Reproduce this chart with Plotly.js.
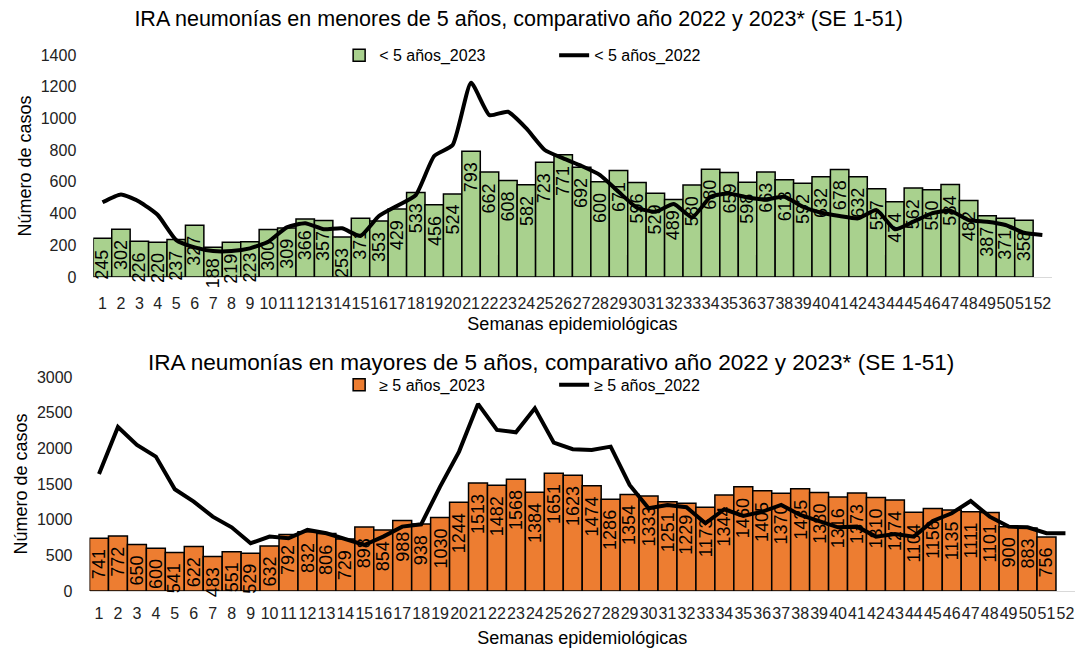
<!DOCTYPE html>
<html>
<head>
<meta charset="utf-8">
<script src="https://cdn.plot.ly/plotly-3.0.1.min.js"></script>
<style>html,body{margin:0;padding:0;background:#fff}#chart{width:1076px;height:650px}</style>
</head>
<body>
<div id="chart"></div>
<script>
// Semanas epidemiológicas
const weeks = [1,2,3,4,5,6,7,8,9,10,11,12,13,14,15,16,17,18,19,20,21,22,23,24,25,26,27,28,29,30,31,32,33,34,35,36,37,38,39,40,41,42,43,44,45,46,47,48,49,50,51,52];
const weeks2023 = [1,2,3,4,5,6,7,8,9,10,11,12,13,14,15,16,17,18,19,20,21,22,23,24,25,26,27,28,29,30,31,32,33,34,35,36,37,38,39,40,41,42,43,44,45,46,47,48,49,50,51];

// < 5 años
const menores2023 = [245,302,226,220,237,327,188,219,223,300,309,366,357,253,371,353,429,533,456,524,793,662,608,582,723,771,692,600,671,596,529,489,580,680,659,598,663,613,592,632,678,632,557,474,562,550,584,482,387,371,358];
const menores2022 = [471,521,475,391,233,187,164,164,181,223,313,339,301,307,259,385,450,517,763,832,1225,1021,1042,937,801,748,700,643,538,437,412,460,376,506,527,502,490,506,443,405,385,370,422,301,349,401,418,359,349,328,279,265];

// ≥ 5 años
const mayores2023 = [741,772,650,600,541,622,483,551,529,632,792,832,806,729,898,854,988,938,1030,1244,1513,1482,1568,1384,1651,1623,1474,1286,1354,1333,1251,1229,1173,1344,1460,1405,1370,1435,1380,1316,1373,1310,1274,1104,1156,1135,1111,1101,900,883,756];
const mayores2022 = [1641,2300,2048,1884,1426,1253,1042,893,669,762,739,856,809,725,645,762,902,935,1463,1954,2623,2258,2225,2562,2080,1987,1978,2024,1487,1160,1206,1174,949,1146,1052,1112,1206,1066,972,893,902,762,800,762,982,1090,1262,1042,902,893,809,810];

const names = {
  m23: '< 5 años_2023', m22: '< 5 años_2022',
  M23: '≥ 5 años_2023', M22: '≥ 5 años_2022'
};
const titles = {
  top: 'IRA neumonías en menores de 5 años, comparativo año 2022 y 2023* (SE 1-51)',
  bottom: 'IRA neumonías en mayores de 5 años, comparativo año 2022 y 2023* (SE 1-51)',
  y: 'Número de casos',
  x: 'Semanas epidemiológicas'
};

const FONT = 'Liberation Sans, Arial, sans-serif';
const lblFont = {family: FONT, size: 18, color: '#000'};

const traces = [
  {
    type: 'bar', x: weeks2023, y: menores2023, name: names.m23,
    xaxis: 'x', yaxis: 'y', legend: 'legend',
    marker: {color: '#A9D18E', line: {color: '#000', width: 1.5}}
  },
  {
    type: 'scatter', mode: 'lines', x: weeks, y: menores2022, name: names.m22,
    xaxis: 'x', yaxis: 'y', legend: 'legend',
    line: {color: '#000', width: 4, shape: 'spline', smoothing: 0.5}
  },
  {
    type: 'bar', x: weeks2023, y: mayores2023, name: names.M23,
    xaxis: 'x2', yaxis: 'y2', legend: 'legend2',
    marker: {color: '#ED7D31', line: {color: '#000', width: 1.5}}
  },
  {
    type: 'scatter', mode: 'lines', x: weeks, y: mayores2022, name: names.M22,
    xaxis: 'x2', yaxis: 'y2', legend: 'legend2',
    line: {color: '#000', width: 4}
  }
];

// value labels (rotated, inside end of each bar)
function labels(xs, ys, xref, yref) {
  return ys.map((v, i) => ({
    x: xs[i], y: v, xref: xref, yref: yref, text: String(v),
    textangle: -90, showarrow: false, xanchor: 'center', yanchor: 'top',
    yshift: -9, font: lblFont
  }));
}

const axisFont = {family: FONT, size: 16, color: '#222'};
const titleFont = {family: FONT, size: 18, color: '#000'};

const layout = {
  width: 1076, height: 650,
  margin: {l: 0, r: 0, t: 0, b: 0},
  paper_bgcolor: '#fff', plot_bgcolor: '#fff',
  font: {family: FONT, color: '#000'},
  bargap: 0.0,
  showlegend: true,
  title: {text: titles.top, x: 0.482, xanchor: 'center', y: 0.972, yanchor: 'middle',
          font: {family: FONT, size: 21.5, color: '#000'}},
  xaxis: {
    domain: [0.0867, 0.9773], range: [0.5, 52.5], anchor: 'y',
    tickmode: 'array', tickvals: weeks, ticktext: weeks.map(String),
    tickangle: 0, tickfont: axisFont, ticks: '', showgrid: false, zeroline: false,
    showline: true, linecolor: '#d9d9d9', linewidth: 1, ticklabelstandoff: 12,
    title: {text: titles.x, font: titleFont, standoff: 6}
  },
  yaxis: {
    domain: [0.5738, 0.9154], range: [0, 1400], anchor: 'x',
    tickvals: [0,200,400,600,800,1000,1200,1400], tickfont: axisFont,
    ticks: '', showgrid: false, zeroline: false, showline: false,
    ticklabelstandoff: 16,
    title: {text: titles.y, font: titleFont, standoff: 4}
  },
  xaxis2: {
    domain: [0.0832, 0.999], range: [0.5, 52.5], anchor: 'y2',
    tickmode: 'array', tickvals: weeks, ticktext: weeks.map(String),
    tickangle: 0, tickfont: axisFont, ticks: '', showgrid: false, zeroline: false,
    showline: true, linecolor: '#d9d9d9', linewidth: 1, ticklabelstandoff: 8,
    title: {text: titles.x, font: titleFont, standoff: 10}
  },
  yaxis2: {
    domain: [0.0908, 0.42], range: [0, 3000], anchor: 'x2',
    tickvals: [0,500,1000,1500,2000,2500,3000], tickfont: axisFont,
    ticks: '', showgrid: false, zeroline: false, showline: false,
    ticklabelstandoff: 16,
    title: {text: titles.y, font: titleFont, standoff: 4}
  },
  legend: {
    orientation: 'h', x: 0.515, xanchor: 'center', y: 0.915, yanchor: 'middle',
    font: {family: FONT, size: 16, color: '#000'}, bgcolor: 'rgba(0,0,0,0)',
    entrywidth: 170, itemwidth: 30, traceorder: 'normal'
  },
  legend2: {
    orientation: 'h', x: 0.515, xanchor: 'center', y: 0.408, yanchor: 'middle',
    font: {family: FONT, size: 16, color: '#000'}, bgcolor: 'rgba(0,0,0,0)',
    entrywidth: 170, itemwidth: 30, traceorder: 'normal'
  },
  annotations: [
    {text: titles.bottom, xref: 'paper', yref: 'paper', x: 0.512, y: 1 - 362/650,
     xanchor: 'center', yanchor: 'middle', showarrow: false,
     font: {family: FONT, size: 22.6, color: '#000'}}
  ].concat(labels(weeks2023, menores2023, 'x', 'y'))
   .concat(labels(weeks2023, mayores2023, 'x2', 'y2'))
};

Plotly.newPlot('chart', traces, layout, {displayModeBar: false, staticPlot: true});
</script>
</body>
</html>
